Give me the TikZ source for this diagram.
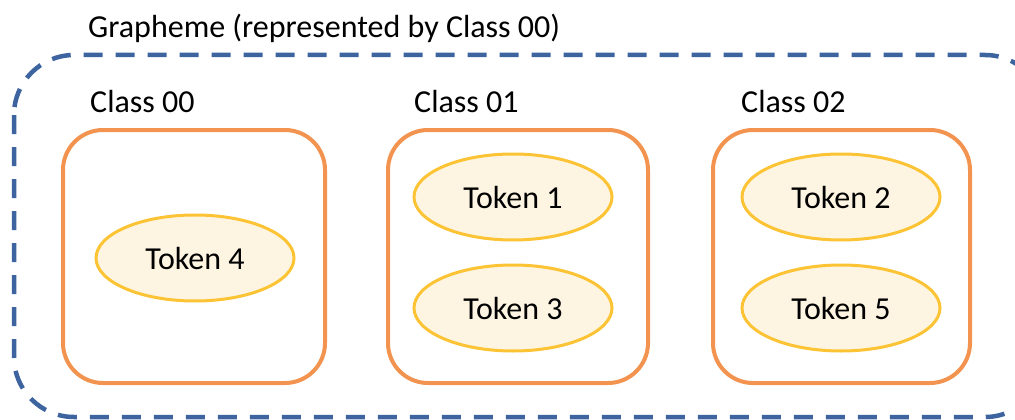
\documentclass[tikz,border=0pt]{standalone}
\usepackage{fontspec}
\setmainfont{Carlito}
\usetikzlibrary{shapes.geometric}
\definecolor{dashblue}{RGB}{62,100,160}
\definecolor{boxorange}{RGB}{242,148,80}
\definecolor{ellborder}{RGB}{252,196,52}
\definecolor{ellfill}{RGB}{254,244,226}
\tikzset{
  grapheme/.style={draw=dashblue, line width=4.5pt, dash pattern=on 19pt off 13pt, rounded corners=60pt},
  classbox/.style={draw=boxorange, line width=4pt, rounded corners=40pt},
  token/.style={ellipse, draw=ellborder, fill=ellfill, line width=3pt, minimum width=198pt, minimum height=86pt, inner sep=0pt, font=\fontsize{32}{38}\selectfont},
  lbl/.style={anchor=base west, inner sep=0pt, font=\fontsize{32}{38}\selectfont},
}
\begin{document}
\begin{tikzpicture}[x=1pt,y=-1pt]
\useasboundingbox (0,0) rectangle (1015,420);
\clip (0,0) rectangle (1015,420);
\fill[white] (0,0) rectangle (1015,420);
\draw[grapheme] (14,55) rectangle (1045,417);
\node[lbl] (glbl) at (88,38) {Grapheme (represented by Class 00)};
\draw[classbox] (63,130) rectangle (325,383);
\draw[classbox] (388,130) rectangle (648,383);
\draw[classbox] (713,130) rectangle (970,383);
\node[lbl] (c0) at (90,112) {Class 00};
\node[lbl] (c1) at (414,112) {Class 01};
\node[lbl] (c2) at (741,112) {Class 02};
\node[token] (t4) at (195,258) {Token 4};
\node[token] (t1) at (513,197) {Token 1};
\node[token] (t3) at (513,308) {Token 3};
\node[token] (t2) at (841,197) {Token 2};
\node[token] (t5) at (841,308) {Token 5};
\end{tikzpicture}
\end{document}
